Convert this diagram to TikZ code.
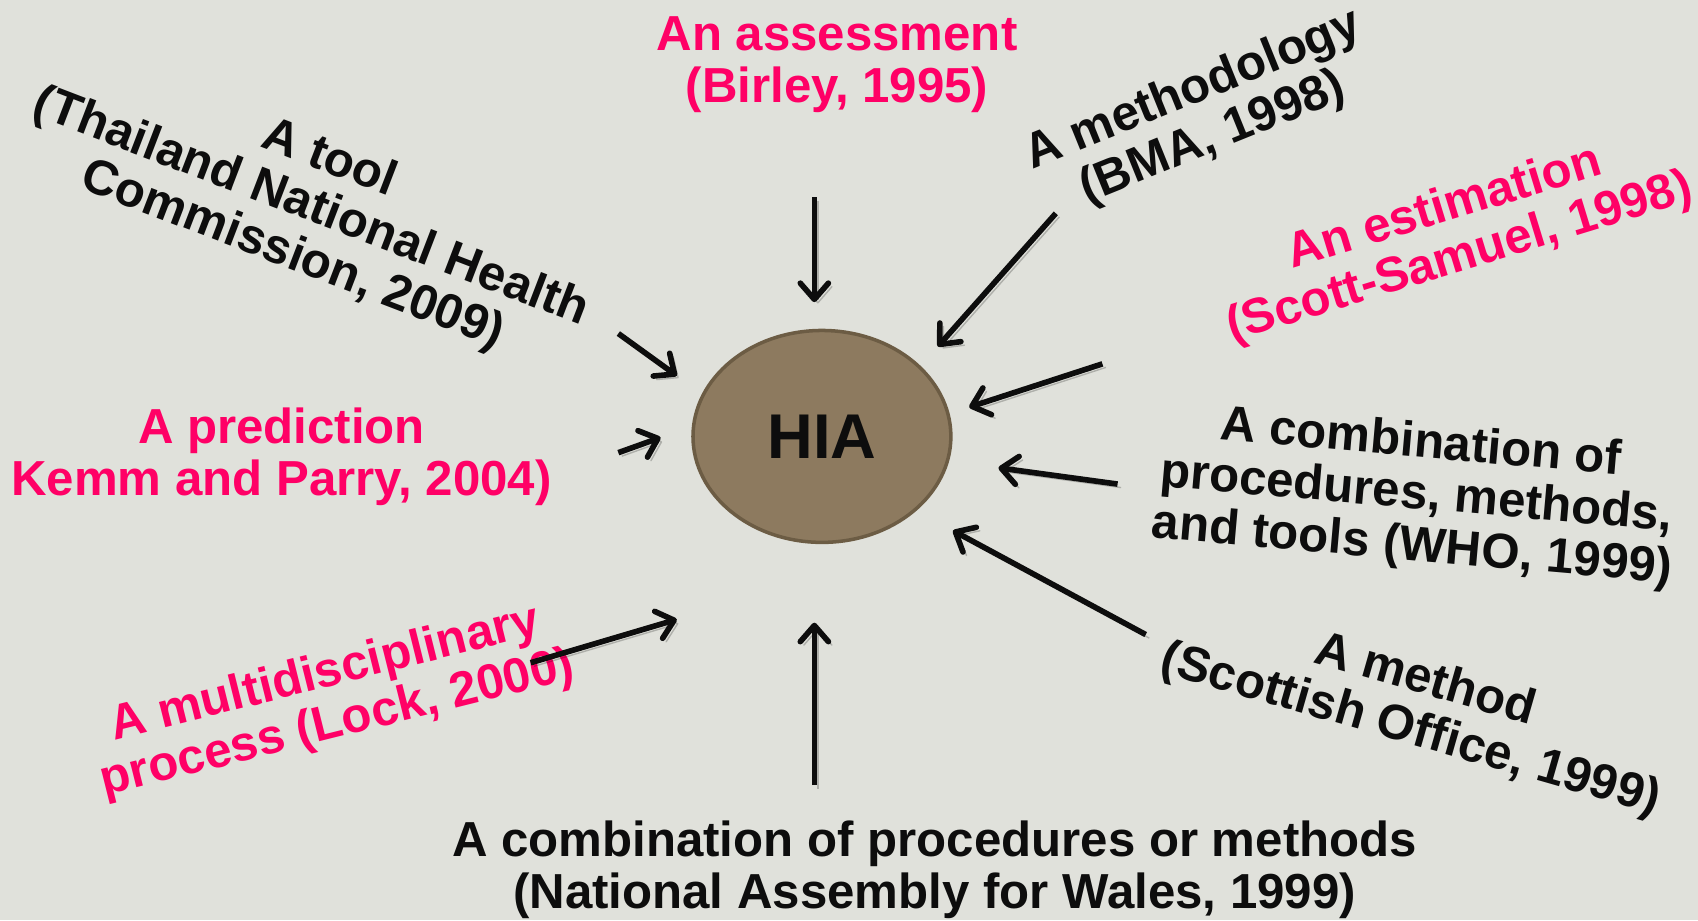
\documentclass[tikz,border=0pt]{standalone}
\usepackage{fontspec}
\setmainfont{Liberation Sans}
\usetikzlibrary{arrows.meta,shapes.geometric}
\definecolor{hiabg}{RGB}{224,225,219}
\definecolor{hiabrown}{RGB}{141,122,95}
\definecolor{hiarim}{RGB}{108,92,68}
\definecolor{hiapink}{RGB}{255,0,102}
\definecolor{hiablack}{RGB}{13,13,13}
\begin{document}
\begin{tikzpicture}[x=0.01083cm, y=-0.01083cm, >={Straight Barb[length=4.6pt,width=8pt,round]},
    every node/.style={align=center, inner sep=0pt, font=\bfseries\fontsize{14}{14.7}\selectfont},
    pinktext/.style={text=hiapink},
    blacktext/.style={text=hiablack},
    feed/.style={->, line width=1.6pt, hiablack, preaction={draw=black, opacity=.22, transform canvas={shift={(1pt,-1pt)}}}}]

    % Background
    \fill[hiabg] (0,0) rectangle (1568,850);
    \useasboundingbox (0,0) rectangle (1568,850);

    % Centre
    \node (hia) [ellipse, draw=hiarim, line width=1pt, fill=hiabrown, minimum width=2.58cm, minimum height=2.12cm, text=hiablack, font=\bfseries\fontsize{18}{18}\selectfont] at (759,403) {HIA};

    % Definitions
    \node (assess) [pinktext] at (773,60) {An assessment\\(Birley, 1995)};
    \node (bma) [blacktext, rotate=22] at (1111,106) {A methodology\\(BMA, 1998)};
    \node (estim) [pinktext, rotate=17] at (1341,216) {An estimation\\(Scott-Samuel, 1998)};
    \node (who) [blacktext, rotate=-5] at (1308,458) {A combination of\\procedures, methods,\\and tools (WHO, 1999)};
    \node (scot) [blacktext, rotate=-16] at (1309,652) {A method\\(Scottish Office, 1999)};
    \node (wales) [blacktext] at (863,803) {A combination of procedures or methods\\(National Assembly for Wales, 1999)};
    \node (lock) [pinktext, rotate=14] at (306,646) {A multidisciplinary\\process (Lock, 2000)};
    \node (predict) [pinktext] at (260,422) {A prediction\\Kemm and Parry, 2004)};
    \node (thai) [blacktext, rotate=-21] at (287,192) {A tool\\(Thailand National Health\\Commission, 2009)};

    % Arrow ends
    \coordinate (assess-t) at (752,182);  \coordinate (assess-h) at (752,279);
    \coordinate (bma-t) at (975,197);     \coordinate (bma-h) at (866,320);
    \coordinate (estim-t) at (1018,336);  \coordinate (estim-h) at (895,376);
    \coordinate (who-t) at (1032,447);    \coordinate (who-h) at (922,432);
    \coordinate (scot-t) at (1058,586);   \coordinate (scot-h) at (880,490);
    \coordinate (wales-t) at (752,725);   \coordinate (wales-h) at (752,575);
    \coordinate (lock-t) at (490,612);    \coordinate (lock-h) at (625,572);
    \coordinate (predict-t) at (571,418); \coordinate (predict-h) at (610,404);
    \coordinate (thai-t) at (571,308);    \coordinate (thai-h) at (625,347);

    % Arrows into HIA
    \draw[feed] (assess-t) -- (assess-h);
    \draw[feed] (bma-t) -- (bma-h);
    \draw[feed] (estim-t) -- (estim-h);
    \draw[feed] (who-t) -- (who-h);
    \draw[feed] (scot-t) -- (scot-h);
    \draw[feed] (wales-t) -- (wales-h);
    \draw[feed] (lock-t) -- (lock-h);
    \draw[feed] (predict-t) -- (predict-h);
    \draw[feed] (thai-t) -- (thai-h);

\end{tikzpicture}
\end{document}
